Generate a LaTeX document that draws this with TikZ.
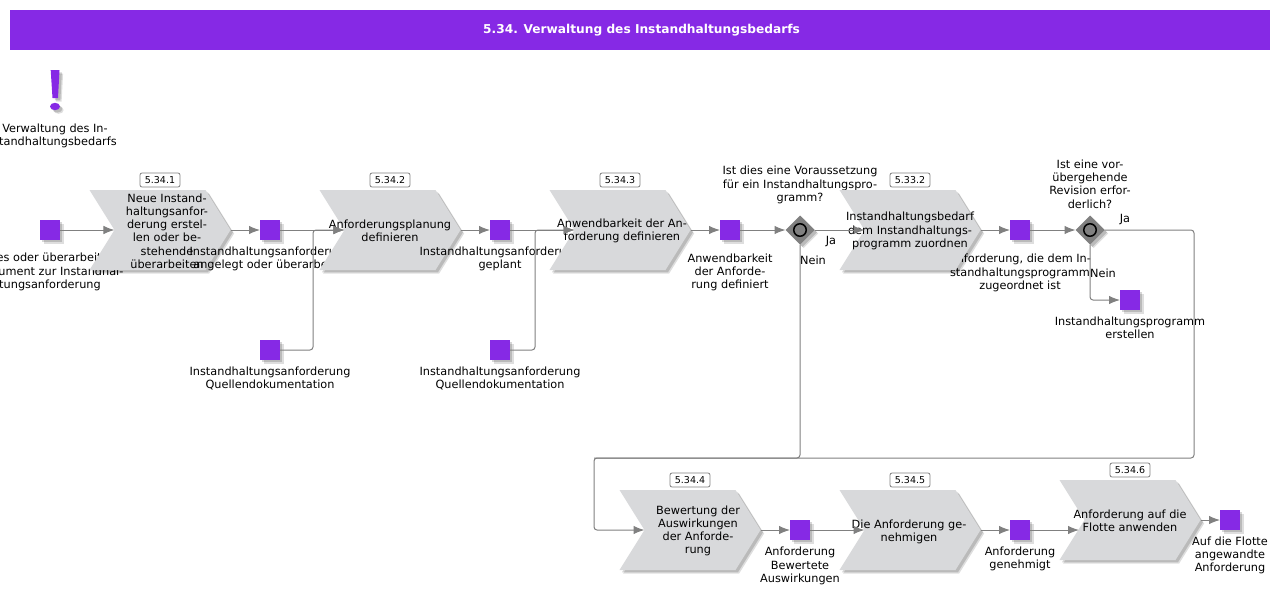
\documentclass[tikz,border=0pt]{standalone}
\usepackage{fontspec}
\setmainfont{DejaVu Sans}
\usetikzlibrary{calc,shadows,shapes.symbols,shapes.geometric,arrows.meta}
\definecolor{evpurple}{HTML}{8629E5}
\definecolor{chevgray}{HTML}{D8D9DB}
\definecolor{linegray}{HTML}{808080}
\tikzset{
	softshadow/.style={drop shadow={shadow xshift=3.6pt, shadow yshift=-3.6pt, opacity=0.13, fill=black}, drop shadow={shadow xshift=2.4pt, shadow yshift=-2.4pt, opacity=0.16, fill=black}},
	chevron/.style={signal, signal to=east, signal from=west, signal pointer angle=116, fill=chevgray, minimum width=141pt, minimum height=80pt, inner sep=0pt, outer sep=0pt, softshadow},
	event/.style={rectangle, fill=evpurple, minimum size=20pt, inner sep=0pt, outer sep=0pt, softshadow},
	gate/.style={diamond, fill=linegray, minimum size=29pt, inner sep=0pt, outer sep=0pt, softshadow},
	gatering/.style={circle, draw=black, line width=1.5pt, minimum size=12.5pt, inner sep=0pt},
	badge/.style={rectangle, draw=black!50, line width=0.8pt, fill=white, rounded corners=2pt, minimum width=40pt, minimum height=14pt, inner sep=0pt, font=\fontsize{9.5}{10}\selectfont},
	caption/.style={align=center, inner sep=0pt, font=\fontsize{11.3}{13.2}\selectfont},
	flow/.style={draw=linegray, line width=1pt, rounded corners=3pt, -{Latex[length=11pt,width=8.5pt]}},
	pipe/.style={draw=linegray, line width=1pt, rounded corners=3pt},
}
\begin{document}
\begin{tikzpicture}[x=1pt, y=-1pt]
	\useasboundingbox (0, 0) rectangle (1280, 595);
	%%%%% HEADER %%%%%
	\node[fill=evpurple, minimum width=1260pt, minimum height=40pt, inner sep=0pt, text=white, font=\fontsize{12.2}{13}\selectfont\bfseries] (title) at (640, 30) {\hspace*{3pt}5.34. Verwaltung des Instandhaltungsbedarfs};
	\fill[evpurple, softshadow] (50.7, 70) -- (59.5, 70) -- (58, 98) -- (52.5, 98) -- cycle;
	\fill[evpurple, softshadow] (55, 106.5) ellipse (5 and 3.7);
	\node[caption] (startlabel) at (55, 135.5) {Verwaltung des In-\\standhaltungsbedarfs};
	%%%%% ROW ONE %%%%%
	\node[caption] (e1label) at (50, 272) {Neues oder überarbeitetes\\Dokument zur Instandhal-\\tungsanforderung};
	\node[event] (e1) at (50, 230) {};
	\node[chevron] (c1) at (160, 230) {};
	\node[caption] at (167, 231) {Neue Instand-\\haltungsanfor-\\derung erstel-\\len oder be-\\stehende\\überarbeiten};
	\node[badge] (b1) at (160, 180) {5.34.1};
	\node[caption] (e2label) at (270, 258.5) {Instandhaltungsanforderung\\angelegt oder überarbeitet};
	\node[event] (e2) at (270, 230) {};
	\node[caption] (e3label) at (270, 378.5) {Instandhaltungsanforderung\\Quellendokumentation};
	\node[event] (e3) at (270, 350) {};
	\node[chevron] (c2) at (390, 230) {};
	\node[caption] at (390, 231) {Anforderungsplanung\\definieren};
	\node[badge] (b2) at (390, 180) {5.34.2};
	\node[caption] (e4label) at (500, 258.5) {Instandhaltungsanforderung\\geplant};
	\node[event] (e4) at (500, 230) {};
	\node[caption] (e5label) at (500, 378.5) {Instandhaltungsanforderung\\Quellendokumentation};
	\node[event] (e5) at (500, 350) {};
	\node[chevron] (c3) at (620, 230) {};
	\node[caption] at (622, 231) {Anwendbarkeit der An-\\forderung definieren};
	\node[badge] (b3) at (620, 180) {5.34.3};
	\node[caption] (e6label) at (730, 272.5) {Anwendbarkeit\\der Anforde-\\rung definiert};
	\node[event] (e6) at (730, 230) {};
	\node[caption] (d1label) at (800, 185) {Ist dies eine Voraussetzung\\für ein Instandhaltungspro-\\gramm?};
	\node[gate] (d1) at (800, 230) {};
	\node[gatering] at (d1) {};
	\node[caption] (e7label) at (1020, 273) {Anforderung, die dem In-\\standhaltungsprogramm\\zugeordnet ist};
	\node[chevron] (c4) at (910, 230) {};
	\node[caption] at (910, 231) {Instandhaltungsbedarf\\dem Instandhaltungs-\\programm zuordnen};
	\node[badge] (b4) at (910, 180) {5.33.2};
	\node[event] (e7) at (1020, 230) {};
	\node[caption] (d2label) at (1090, 184) {Ist eine vor-\\übergehende\\Revision erfor-\\derlich?};
	\node[gate] (d2) at (1090, 230) {};
	\node[gatering] at (d2) {};
	\node[event] (e8) at (1130, 300) {};
	\node[caption] (e8label) at (1130, 328) {Instandhaltungsprogramm\\erstellen};
	%%%%% ROW TWO %%%%%
	\node[chevron] (c5) at (690, 530) {};
	\node[caption] at (698, 531) {Bewertung der\\Auswirkungen\\der Anforde-\\rung};
	\node[badge] (b5) at (690, 480) {5.34.4};
	\node[caption] (e9label) at (800, 566) {Anforderung\\Bewertete\\Auswirkungen};
	\node[event] (e9) at (800, 530) {};
	\node[chevron] (c6) at (910, 530) {};
	\node[caption] at (909, 532) {Die Anforderung ge-\\nehmigen};
	\node[badge] (b6) at (910, 480) {5.34.5};
	\node[caption] (e10label) at (1020, 559) {Anforderung\\genehmigt};
	\node[event] (e10) at (1020, 530) {};
	\node[chevron] (c7) at (1130, 520) {};
	\node[caption] at (1130, 521) {Anforderung auf die\\Flotte anwenden};
	\node[badge] (b7) at (1130, 470) {5.34.6};
	\node[event] (e11) at (1230, 520) {};
	\node[caption] (e11label) at (1230, 555.5) {Auf die Flotte\\angewandte\\Anforderung};
	%%%%% JOINS %%%%%
	\coordinate (j1) at (313, 230);
	\coordinate (j2) at (535, 230);
	\coordinate (j3) at (800, 458);
	\coordinate (j4) at (594, 458);
	\coordinate (j5) at (594, 530);
	\coordinate (j6) at (1194, 230);
	\coordinate (j7) at (1194, 458);
	\coordinate (j8) at (1090, 300);
	\coordinate (j9) at (1079, 530);
	%%%%% CONNECTORS %%%%%
	\draw[flow] (e1) -- (c1.west);
	\draw[flow] (c1.east) -- (e2);
	\draw[flow] (e2) -- (c2.west);
	\draw[flow] (e3) -| (j1) -- (c2.west);
	\draw[flow] (c2.east) -- (e4);
	\draw[flow] (e4) -- (c3.west);
	\draw[flow] (e5) -| (j2) -- (c3.west);
	\draw[flow] (c3.east) -- (e6);
	\draw[flow] (e6) -- (d1);
	\draw[flow] (d1) -- (c4.west);
	\draw[pipe] (d1) -- (j3) -- (j4);
	\draw[flow] (c4.east) -- (e7);
	\draw[flow] (e7) -- (d2);
	\draw[flow] (d2) -- (j6) -- (j7) -- (j4) -- (j5) -- (c5.west);
	\draw[flow] (d2) -- (j8) -- (e8);
	\draw[flow] (c5.east) -- (e9);
	\draw[flow] (e9) -- (c6.west);
	\draw[flow] (c6.east) -- (e10);
	\draw[flow] (e10) -- (j9);
	\draw[flow] (c7.east) -- (e11);
	%%%%% LABELS %%%%%
	\node[caption] (ja1) at (831, 242) {Ja};
	\node[caption] (nein1) at (813, 260) {Nein};
	\node[caption] (ja2) at (1125, 220) {Ja};
	\node[caption] (nein2) at (1103, 273) {Nein};
\end{tikzpicture}
\end{document}
